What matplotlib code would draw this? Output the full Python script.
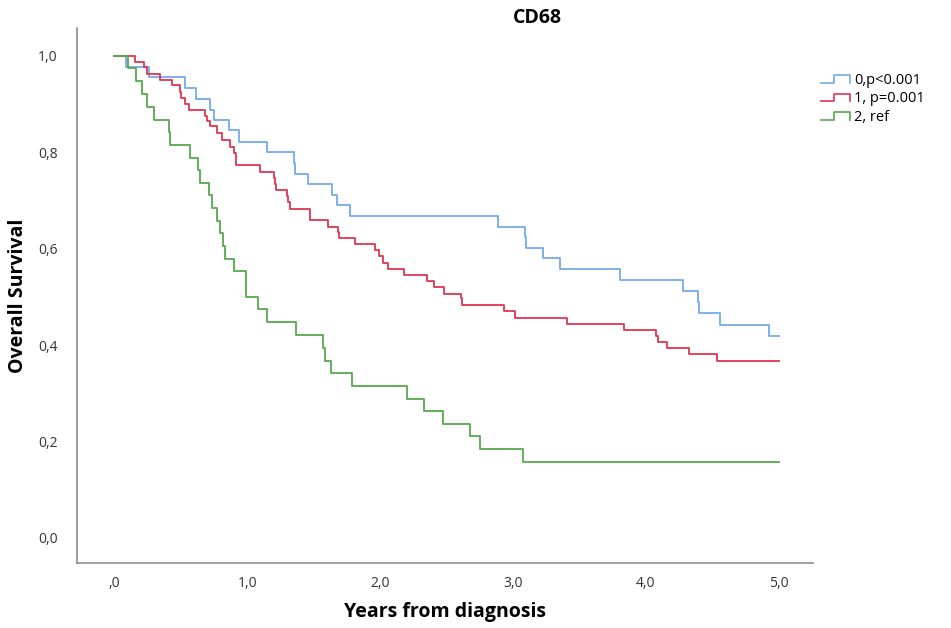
import matplotlib
matplotlib.use("Agg")
import matplotlib.pyplot as plt
from matplotlib.lines import Line2D
from matplotlib.legend_handler import HandlerBase

plt.rcParams['font.family'] = ['Open Sans', 'DejaVu Sans']

# Kaplan-Meier step points: (years, survival after the drop)
t0 = [0.0, 0.09, 0.264, 0.535, 0.612, 0.723, 0.753, 0.861, 0.936, 1.15, 1.355, 1.36,
      1.458, 1.64, 1.677, 1.772, 2.886, 3.095, 3.10, 3.225, 3.358, 3.81, 4.282, 4.395,
      4.40, 4.563, 4.927, 5.0]
s0 = [1.0, 0.976, 0.956, 0.933, 0.910, 0.888, 0.867, 0.846, 0.822, 0.801, 0.777, 0.756,
      0.734, 0.711, 0.690, 0.668, 0.645, 0.624, 0.601, 0.580, 0.558, 0.536, 0.512, 0.489,
      0.467, 0.442, 0.419, 0.419]

t1 = [0.0, 0.153, 0.226, 0.246, 0.341, 0.434, 0.497, 0.50, 0.535, 0.56, 0.685, 0.70,
      0.723, 0.773, 0.81, 0.873, 0.899, 0.916, 0.92, 1.094, 1.20, 1.21, 1.22, 1.30,
      1.31, 1.32, 1.471, 1.475, 1.609, 1.684, 1.69, 1.815, 1.965, 1.99, 2.02, 2.06,
      2.184, 2.355, 2.405, 2.48, 2.61, 2.62, 2.93, 3.02, 3.41, 3.84, 4.08, 4.09, 4.16,
      4.325, 4.54, 5.0]
s1 = [1.0, 0.988, 0.976, 0.963, 0.950, 0.940, 0.926, 0.913, 0.900, 0.888, 0.875, 0.864,
      0.854, 0.840, 0.826, 0.810, 0.798, 0.786, 0.774, 0.760, 0.747, 0.735, 0.722, 0.709,
      0.696, 0.683, 0.671, 0.659, 0.646, 0.634, 0.622, 0.609, 0.598, 0.584, 0.571, 0.558,
      0.546, 0.534, 0.520, 0.506, 0.497, 0.484, 0.470, 0.456, 0.444, 0.432, 0.419, 0.407,
      0.395, 0.381, 0.367, 0.367]

t2 = [0.0, 0.10, 0.163, 0.208, 0.25, 0.296, 0.414, 0.42, 0.572, 0.63, 0.648, 0.71,
      0.738, 0.776, 0.798, 0.815, 0.83, 0.898, 0.99, 0.995, 1.084, 1.147, 1.37, 1.57,
      1.59, 1.63, 1.787, 2.2, 2.33, 2.475, 2.68, 2.756, 3.075, 5.0]
s2 = [1.0, 0.974, 0.947, 0.921, 0.895, 0.868, 0.842, 0.816, 0.789, 0.763, 0.737, 0.711,
      0.684, 0.658, 0.632, 0.605, 0.579, 0.553, 0.526, 0.500, 0.474, 0.447, 0.421, 0.395,
      0.368, 0.342, 0.316, 0.289, 0.263, 0.237, 0.211, 0.184, 0.158, 0.158]

labels = ['0,p<0.001', '1, p=0.001', '2, ref']
colors = ['#74a9ef', '#e2344f', '#55a94c']

xticks = [0, 1, 2, 3, 4, 5]
xticklabels = [',0', '1,0', '2,0', '3,0', '4,0', '5,0']
yticks = [0, 0.2, 0.4, 0.6, 0.8, 1.0]
yticklabels = ['0,0', '0,2', '0,4', '0,6', '0,8', '1,0']


class StepHandler(HandlerBase):
    def create_artists(self, legend, orig_handle, xdescent, ydescent,
                       width, height, fontsize, trans):
        x = [0, width * 0.45, width * 0.45, width, width]
        y = [height * 0.1, height * 0.1, height * 0.85, height * 0.85, height * 0.1]
        ln = Line2D(x, y, color=orig_handle.get_color(), lw=1.2, transform=trans)
        return [ln]


fig = plt.figure(figsize=(9.51, 6.28), dpi=100)
ax = fig.add_axes([0.081, 0.1035, 0.774, 0.852])

handles = []
for t, s, c, lab in zip([t0, t1, t2], [s0, s1, s2], colors, labels):
    h, = ax.step(t, s, where='post', color=c, lw=1.3, label=lab)
    handles.append(h)

ax.set_xlim(-0.28, 5.26)
ax.set_ylim(-0.052, 1.058)
ax.set_xticks(xticks)
ax.set_xticklabels(xticklabels)
ax.set_yticks(yticks)
ax.set_yticklabels(yticklabels)
ax.tick_params(length=0, labelsize=10, colors='#333333')
ax.tick_params(axis='y', pad=14)
ax.tick_params(axis='x', pad=9)
for side in ['top', 'right']:
    ax.spines[side].set_visible(False)
for side in ['left', 'bottom']:
    ax.spines[side].set_color('#8c8c8c')
    ax.spines[side].set_linewidth(1.2)

ax.set_xlabel('Years from diagnosis', fontsize=14, fontweight='bold')
ax.set_ylabel('Overall Survival', fontsize=14, fontweight='bold')
ax.xaxis.set_label_coords(0.5, -0.092)
ax.yaxis.set_label_coords(-0.080, 0.5)
ax.xaxis.label.set_va('center')
ax.yaxis.label.set_va('center')
fig.text(537 / 951, 1 - 18 / 628, 'CD68', fontsize=14, fontweight='bold',
         ha='center', va='center')

fig.legend(handles=handles, labels=labels, loc='upper left',
           bbox_to_anchor=(815 / 951, 1 - 67 / 628), frameon=False, fontsize=10.5,
           handler_map={Line2D: StepHandler()}, handlelength=2.0, handletextpad=0.3,
           labelspacing=0.25, borderaxespad=0)

fig.savefig('out.png', dpi=100)
